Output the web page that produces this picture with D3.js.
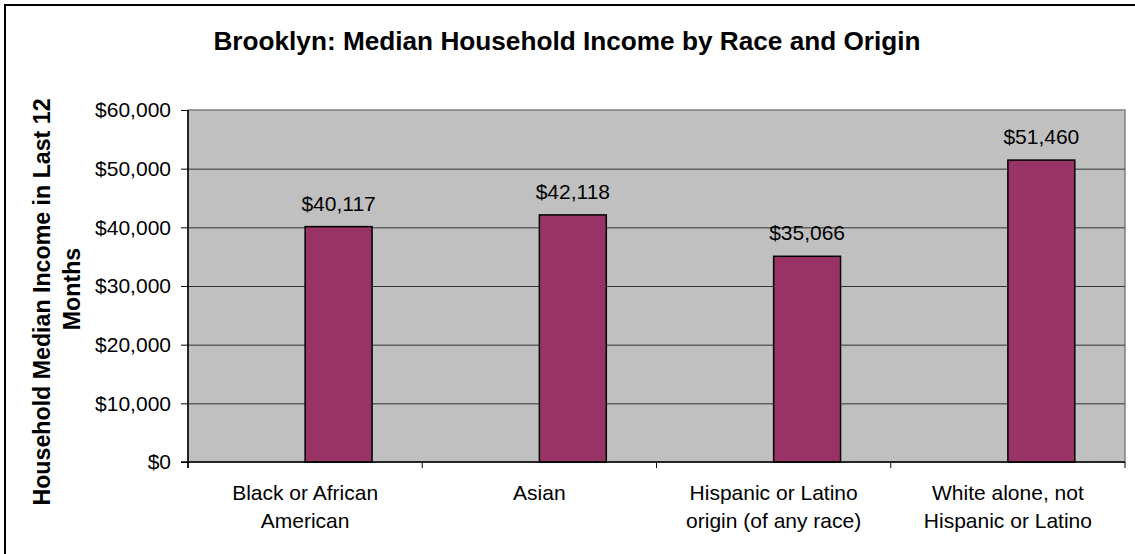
<!DOCTYPE html>
<html>
<head>
<meta charset="utf-8">
<title>Brooklyn median household income</title>
<style>
  body { margin: 0; background: #fff; }
  svg text { font-family: "Liberation Sans", Arial, sans-serif; fill: #000; }
</style>
</head>
<body>
<svg id="viz" width="1135" height="554"></svg>
<script src="https://d3js.org/d3.v7.min.js"></script>
<script>
// data
var categories = ["Black or African American", "Asian", "Hispanic or Latino origin (of any race)", "White alone, not Hispanic or Latino"];
var categoryLines = [["Black or African", "American"], ["Asian"], ["Hispanic or Latino", "origin (of any race)"], ["White alone, not", "Hispanic or Latino"]];
var incomes = [40117, 42118, 35066, 51460];
var yTicks = [0, 10000, 20000, 30000, 40000, 50000, 60000];
var chartTitle = "Brooklyn: Median Household Income by Race and Origin";
var yTitleLines = ["Household Median Income in Last 12", "Months"];

var svg = d3.select("#viz");
// note: "top" is taken by window.top, so plot edges get their own names
var plotLeft = 188, plotRight = 1125, plotTop = 110, plotBottom = 462;

// outer chart border (runs off the right and bottom of the picture)
svg.append("rect")
  .attr("x", 5).attr("y", 5)
  .attr("width", 1140).attr("height", 560)
  .attr("fill", "none").attr("stroke", "#000").attr("stroke-width", 2);

var x = d3.scaleBand().domain(categories).range([plotLeft, plotRight]).padding(0);
// excel clustered layout: an empty first series, so the bar sits right of centre
var sub = d3.scaleBand().domain(["blank", "income"]).range([0, x.bandwidth()]).paddingOuter(0.75);
var y = d3.scaleLinear().domain([0, 60000]).range([plotBottom, plotTop]);

// plot area
svg.append("rect")
  .attr("x", plotLeft).attr("y", plotTop)
  .attr("width", plotRight - plotLeft).attr("height", plotBottom - plotTop)
  .attr("fill", "#c0c0c0").attr("stroke", "#808080").attr("stroke-width", 1.5);

// gridlines
svg.append("g")
  .attr("transform", "translate(" + plotLeft + ",0)")
  .call(d3.axisLeft(y).tickValues(yTicks.slice(1, -1)).tickSize(-(plotRight - plotLeft)).tickFormat(""))
  .call(function(g){
    g.select(".domain").remove();
    g.selectAll("line").attr("stroke", "#333").attr("stroke-width", 1);
  });

// bars
svg.selectAll(".bar")
  .data(incomes)
  .enter().append("rect")
  .attr("class", "bar")
  .attr("x", function(d, i){ return x(categories[i]) + sub("income"); })
  .attr("y", function(d){ return y(d); })
  .attr("width", sub.bandwidth())
  .attr("height", function(d){ return y(0) - y(d); })
  .attr("fill", "#993366")
  .attr("stroke", "#000").attr("stroke-width", 1.5);

// value labels
svg.selectAll(".val")
  .data(incomes)
  .enter().append("text")
  .attr("class", "val")
  .attr("x", function(d, i){ return x(categories[i]) + sub("income") + sub.bandwidth() / 2; })
  .attr("y", function(d){ return y(d) - 16; })
  .attr("text-anchor", "middle")
  .attr("font-size", 21)
  .text(function(d){ return "$" + d3.format(",")(d); });

// y axis
svg.append("g")
  .attr("transform", "translate(" + plotLeft + ",0)")
  .call(d3.axisLeft(y).tickValues(yTicks).tickSize(7).tickPadding(10)
    .tickFormat(function(d){ return "$" + d3.format(",")(d); }))
  .call(function(g){
    g.select(".domain").attr("stroke", "#000").attr("stroke-width", 1.5).attr("d", "M0," + plotTop + "V" + (plotBottom + 6));
    g.selectAll(".tick line").attr("stroke", "#000");
    g.selectAll(".tick text").attr("font-size", 21).attr("font-family", "Liberation Sans, Arial, sans-serif").attr("fill", "#000");
  });

// x axis line and category boundary ticks
var xAxis = svg.append("g");
xAxis.append("line")
  .attr("x1", plotLeft - 7).attr("x2", plotRight)
  .attr("y1", plotBottom).attr("y2", plotBottom)
  .attr("stroke", "#000").attr("stroke-width", 1.5);
var edges = categories.map(function(c){ return x(c); }).concat([plotRight]);
xAxis.selectAll(".edge")
  .data(edges)
  .enter().append("line")
  .attr("class", "edge")
  .attr("x1", function(d){ return d; }).attr("x2", function(d){ return d; })
  .attr("y1", plotBottom).attr("y2", plotBottom + 6)
  .attr("stroke", "#000");

// category labels
var labels = xAxis.selectAll(".cat")
  .data(categoryLines)
  .enter().append("text")
  .attr("class", "cat")
  .attr("text-anchor", "middle")
  .attr("font-size", 21)
  .attr("transform", function(d, i){ return "translate(" + (x(categories[i]) + x.bandwidth() / 2) + ",500)"; });
labels.selectAll("tspan")
  .data(function(d){ return d; })
  .enter().append("tspan")
  .attr("x", 0)
  .attr("y", function(d, i){ return i * 27.7; })
  .text(function(d){ return d; });

// titles
svg.append("text")
  .attr("x", 567).attr("y", 50)
  .attr("text-anchor", "middle")
  .attr("font-size", 26.2).attr("font-weight", "bold")
  .text(chartTitle);

// the two lines of the axis title are not centred on the same point in the original
var yTitle = svg.append("text")
  .attr("transform", "translate(50,0) rotate(-90)")
  .attr("text-anchor", "middle")
  .attr("font-size", 23.2).attr("font-weight", "bold");
yTitle.selectAll("tspan")
  .data(yTitleLines)
  .enter().append("tspan")
  .attr("x", function(d, i){ return i == 0 ? -302 : -289; })
  .attr("y", function(d, i){ return i * 30; })
  .text(function(d){ return d; });
</script>
</body>
</html>
